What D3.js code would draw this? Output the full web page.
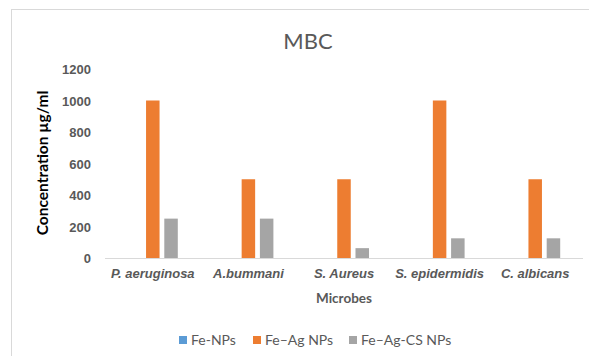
<!DOCTYPE html>
<html>
<head>
<meta charset="utf-8">
<script src="https://cdn.jsdelivr.net/npm/d3@7/dist/d3.min.js"></script>
<style>
  html, body { margin: 0; padding: 0; background: #fff; }
  svg { display: block; font-family: Lato, "Open Sans", sans-serif; }
</style>
</head>
<body>
<svg id="chart" width="589" height="356"></svg>
<script>
// MBC values per microbe for each nanoparticle type
const microbes = ["P. aeruginosa", "A.bummani", "S. Aureus", "S. epidermidis", "C. albicans"];
const seriesNames = ["Fe-NPs", "Fe\u2013Ag NPs", "Fe\u2013Ag-CS NPs"];
const feNPs = [0, 0, 0, 0, 0];
const feAgNPs = [1000, 500, 500, 1000, 500];
const feAgCsNPs = [250, 250, 62.5, 125, 125];
const seriesColors = ["#5b9bd5", "#ed7d31", "#a5a5a5"];
const yTicks = [0, 200, 400, 600, 800, 1000, 1200];

const seriesValues = [feNPs, feAgNPs, feAgCsNPs];
const rows = microbes.map((m, i) => ({
  microbe: m,
  values: seriesNames.map((s, j) => ({ key: s, value: seriesValues[j][i], idx: j }))
}));

const svg = d3.select("#chart");
const W = 589, H = 356;
const plot = { left: 105, right: 583, top: 69, bottom: 258 };

// chart frame
svg.append("rect")
  .attr("x", 11.5).attr("y", 9.5)
  .attr("width", W + 10).attr("height", H + 10)
  .attr("fill", "#fff").attr("stroke", "#d9d9d9").attr("stroke-width", 1);

const x = d3.scaleBand().domain(microbes).range([plot.left, plot.right]).paddingInner(0).paddingOuter(0);
const x1 = d3.scaleBand().domain(seriesNames).range([0, x.bandwidth()]).paddingInner(0.26).paddingOuter(1.25);
const y = d3.scaleLinear().domain([0, 1200]).range([plot.bottom, plot.top]);

// title
svg.append("text")
  .attr("x", 308).attr("y", 49)
  .attr("text-anchor", "middle")
  .attr("font-size", 22).attr("fill", "#595959")
  .text("MBC");

// y axis labels
const yAxis = d3.axisLeft(y).tickValues(yTicks).tickFormat(d3.format("d")).tickSize(0).tickPadding(0);
const yg = svg.append("g").attr("transform", `translate(${plot.left - 14},0)`).call(yAxis);
yg.select(".domain").remove();
yg.selectAll("text")
  .attr("font-family", null)
  .attr("font-size", 13).attr("font-weight", "bold").attr("fill", "#595959")
  .attr("dy", "0.35em");

// bars
const groups = svg.append("g").selectAll("g").data(rows).join("g")
  .attr("transform", d => `translate(${x(d.microbe)},0)`);
groups.selectAll("rect").data(d => d.values).join("rect")
  .attr("x", d => x1(d.key))
  .attr("width", x1.bandwidth())
  .attr("y", d => y(d.value))
  .attr("height", d => plot.bottom - y(d.value))
  .attr("fill", d => seriesColors[d.idx]);

// x axis
const xAxis = d3.axisBottom(x).tickSize(0).tickPadding(0);
const xg = svg.append("g").attr("transform", `translate(0,${plot.bottom})`).call(xAxis);
xg.select(".domain").attr("stroke", "#d9d9d9").attr("d", `M${plot.left},0.5H${plot.right}`);
xg.selectAll("text")
  .attr("font-family", null)
  .attr("font-size", 13).attr("font-weight", "bold").attr("font-style", "italic")
  .attr("fill", "#595959").attr("dy", "1.5em");

// axis titles
svg.append("text")
  .attr("x", 344).attr("y", 303)
  .attr("text-anchor", "middle")
  .attr("font-size", 13.5).attr("font-weight", "bold").attr("fill", "#595959")
  .text("Microbes");

svg.append("text")
  .attr("transform", "translate(48,163) rotate(-90)")
  .attr("text-anchor", "middle")
  .attr("font-size", 15.5).attr("font-weight", "bold").attr("fill", "#000")
  .text("Concentration \u00b5g/ml");

// legend
const legendX = [179, 253, 349];
const lg = svg.append("g").selectAll("g").data(seriesNames).join("g")
  .attr("transform", (d, i) => `translate(${legendX[i]},340)`);
lg.append("rect").attr("x", 0).attr("y", -4).attr("width", 8).attr("height", 8)
  .attr("fill", (d, i) => seriesColors[i]);
lg.append("text").attr("x", 12).attr("y", 0).attr("dy", "0.35em")
  .attr("font-size", 14).attr("fill", "#595959")
  .text(d => d);
</script>
</body>
</html>
